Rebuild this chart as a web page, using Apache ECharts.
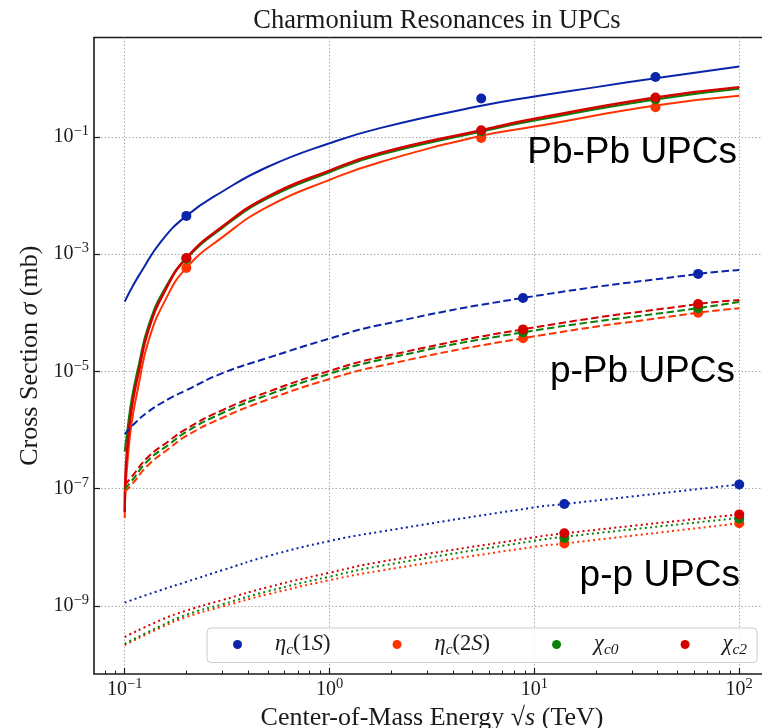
<!DOCTYPE html>
<html><head><meta charset="utf-8">
<script src="https://cdn.jsdelivr.net/npm/echarts@6/dist/echarts.min.js"></script>
<style>html,body{margin:0;padding:0;background:#fff}#c{width:762px;height:728px}</style>
</head><body><div id="c"></div>
<script>
// ---------- data (sigma in mb, sqrt(s) in TeV) ----------
const particles = ['ηc(1S)', 'ηc(2S)', 'χc0', 'χc2'];
const particleLabels = ['{g|η}{c|c}{n|(1}{g|S}{n|)}', '{g|η}{c|c}{n|(2}{g|S}{n|)}', '{g|χ}{c|c0}', '{g|χ}{c|c2}'];
const colors = ['#0a24aa', '#ff3300', '#0a800a', '#d40000'];

// Pb-Pb UPCs (solid curves)
const pbpbE_eta1S = [0.1, 0.11, 0.12, 0.15, 0.2, 0.3, 0.5, 1, 1.76, 5.5, 10, 20, 39, 100];
const pbpb_eta1S = [1.55e-4, 2.95e-4, 4.9e-4, 1.62e-3, 4.49e-3, 1.17e-2, 3.09e-2, 7.8e-2, 0.141, 0.338, 0.488, 0.705, 1.0, 1.585];
const pbpbE_steep = [0.1, 0.1005, 0.1037, 0.1084, 0.1167, 0.1306, 0.158, 0.2, 0.3, 0.5, 1, 1.76, 5.5, 10, 39, 100];
const pbpb_eta2S = [3.16e-8, 7.08e-8, 3.55e-7, 1.41e-6, 5.62e-6, 3.31e-5, 1.66e-4, 5.82e-4, 1.95e-3, 6.46e-3, 1.85e-2, 3.70e-2, 0.104, 0.150, 0.342, 0.501];
const pbpb_chic2 = [3.98e-8, 1.23e-7, 6.76e-7, 2.51e-6, 9.33e-6, 5.13e-5, 2.45e-4, 8.61e-4, 2.95e-3, 9.57e-3, 2.66e-2, 5.27e-2, 0.130, 0.203, 0.469, 0.705];
const pbpbE_chic0 = [0.1, 0.1037, 0.1084, 0.1167, 0.1306, 0.158, 0.2, 0.3, 0.5, 1, 1.76, 5.5, 10, 39, 100];
const pbpb_chic0 = [4.27e-7, 1.20e-6, 3.55e-6, 1.23e-5, 6.03e-5, 2.69e-4, 8.32e-4, 2.80e-3, 8.99e-3, 2.49e-2, 4.93e-2, 0.123, 0.190, 0.434, 0.659];

// p-Pb UPCs (dashed curves)
const ppbE = [0.1, 0.108, 0.13, 0.164, 0.2, 0.3, 0.5, 1, 1.76, 8.8, 63, 100];
const ppb_eta1S = [8.51e-7, 1.15e-6, 2.04e-6, 3.39e-6, 4.79e-6, 9.33e-6, 1.70e-5, 3.63e-5, 6.19e-5, 1.79e-4, 4.59e-4, 5.37e-4];
const ppb_eta2S = [8.91e-8, 1.17e-7, 2.51e-7, 4.79e-7, 7.94e-7, 1.62e-6, 3.31e-6, 7.41e-6, 1.24e-5, 3.67e-5, 1.00e-4, 1.19e-4];
const ppb_chic0 = [9.77e-8, 1.35e-7, 3.02e-7, 5.62e-7, 9.33e-7, 1.95e-6, 3.98e-6, 9.12e-6, 1.57e-5, 4.63e-5, 1.20e-4, 1.53e-4];
const ppb_chic2 = [1.15e-7, 1.58e-7, 3.47e-7, 6.46e-7, 1.05e-6, 2.19e-6, 4.47e-6, 1.02e-5, 1.74e-5, 5.22e-5, 1.41e-4, 1.65e-4];

// p-p UPCs (dotted curves)
const ppE = [0.1, 0.15, 0.2, 0.3, 0.5, 1, 1.76, 10, 14, 100];
const pp_eta1S = [1.14e-9, 1.86e-9, 2.57e-9, 4.07e-9, 7.08e-9, 1.28e-8, 1.84e-8, 4.79e-8, 5.46e-8, 1.18e-7];
const pp_eta2S = [2.14e-10, 4.27e-10, 6.46e-10, 9.77e-10, 1.58e-9, 2.75e-9, 3.98e-9, 1.02e-8, 1.16e-8, 2.57e-8];
const pp_chic0 = [2.26e-10, 4.57e-10, 7.08e-10, 1.07e-9, 1.78e-9, 3.16e-9, 4.79e-9, 1.29e-8, 1.51e-8, 3.16e-8];
const pp_chic2 = [2.95e-10, 5.75e-10, 8.32e-10, 1.26e-9, 2.09e-9, 3.69e-9, 5.62e-9, 1.48e-8, 1.73e-8, 3.64e-8];

// marked points [sqrt(s), sigma]
const pts_eta1S = [[0.2, 4.49e-3], [5.5, 0.45], [39, 1.05], [8.8, 1.79e-4], [63, 4.6e-4], [14, 5.46e-8], [100, 1.18e-7]];
const pts_eta2S = [[0.2, 5.8e-4], [5.5, 0.096], [39, 0.32], [8.8, 3.67e-5], [63, 1.0e-4], [14, 1.16e-8], [100, 2.57e-8]];
const pts_chic0 = [[0.2, 8.3e-4], [5.5, 0.123], [39, 0.434], [8.8, 4.63e-5], [63, 1.2e-4], [14, 1.44e-8], [100, 3.1e-8]];
const pts_chic2 = [[0.2, 8.6e-4], [5.5, 0.13], [39, 0.47], [8.8, 5.2e-5], [63, 1.41e-4], [14, 1.73e-8], [100, 3.64e-8]];

// axes
const X_MIN = 0.0708, X_MAX = 141.3, Y_MIN = 6.9e-11, Y_MAX = 4.95;
const xTickValues = [0.1, 1, 10, 100];
const xTickExponents = ['−1', '0', '1', '2'];
const xMinorTicks = [0.08, 0.09, 0.2, 0.3, 0.4, 0.5, 0.6, 0.7, 0.8, 0.9, 2, 3, 4, 5, 6, 7, 8, 9, 20, 30, 40, 50, 60, 70, 80, 90];
const yTickValues = [1e-9, 1e-7, 1e-5, 1e-3, 1e-1];
const yTickExponents = ['−9', '−7', '−5', '−3', '−1'];
const annotations = ['Pb-Pb UPCs', 'p-Pb UPCs', 'p-p UPCs'];

// ---------- chart ----------
const SERIF = 'Liberation Serif';
const INK = '#1a1a1a';
function pairs(E, S) { return E.map((e, i) => [e, S[i]]); }
function tickFmt(vals, exps) {
  return function (v) {
    let i = vals.findIndex(t => Math.abs(Math.log10(t) - Math.log10(v)) < 1e-6);
    return i < 0 ? '' : '{b|10}{s|' + exps[i] + '}';
  };
}
const tickRich = {
  b: { fontFamily: SERIF, fontSize: 20, color: INK, lineHeight: 26 },
  s: { fontFamily: SERIF, fontSize: 14.5, color: INK, lineHeight: 14, verticalAlign: 'top' }
};

const curveDefs = [
  [pbpbE_eta1S, pbpb_eta1S, 0, 'solid'], [pbpbE_steep, pbpb_eta2S, 1, 'solid'],
  [pbpbE_chic0, pbpb_chic0, 2, 'solid'], [pbpbE_steep, pbpb_chic2, 3, 'solid'],
  [ppbE, ppb_eta1S, 0, [7.5, 3.5]], [ppbE, ppb_eta2S, 1, [7.5, 3.5]],
  [ppbE, ppb_chic0, 2, [7.5, 3.5]], [ppbE, ppb_chic2, 3, [7.5, 3.5]],
  [ppE, pp_eta1S, 0, [2, 3.3]], [ppE, pp_eta2S, 1, [2, 3.3]],
  [ppE, pp_chic0, 2, [2, 3.3]], [ppE, pp_chic2, 3, [2, 3.3]]
];
const series = curveDefs.map((c, k) => ({
  type: 'line', name: 'curve' + k, data: pairs(c[0], c[1]),
  symbol: 'none', smooth: 0.5, silent: true, z: 2,
  lineStyle: { color: colors[c[2]], width: c[2] === 3 && c[3] === 'solid' ? 2.5 : 2, type: c[3] }
}));
[pts_eta1S, pts_eta2S, pts_chic0, pts_chic2].forEach((p, i) => {
  series.push({
    type: 'scatter', name: particles[i], data: p, symbol: 'circle', symbolSize: 10, z: 5,
    itemStyle: { color: colors[i], opacity: 1 }
  });
});

const chart = echarts.init(document.getElementById('c'), null, { renderer: 'canvas' });
chart.setOption({
  animation: false,
  backgroundColor: '#ffffff',
  title: {
    text: 'Charmonium Resonances in UPCs', left: 432, top: 3, textAlign: 'center',
    textStyle: { fontFamily: SERIF, fontSize: 26.5, fontWeight: 'normal', color: INK }
  },
  grid: { left: 94, right: -8, top: 37.5, bottom: 54, outerBoundsMode: 'none', containLabel: false,
          show: true, borderColor: INK, borderWidth: 1.6, backgroundColor: 'transparent' },
  legend: {
    data: particles, left: 207, top: 628, orient: 'horizontal',
    icon: 'circle', itemWidth: 9, itemHeight: 9, itemGap: 62,
    padding: [5, 10, 5, 26], borderColor: '#cccccc', borderWidth: 1, borderRadius: 4,
    backgroundColor: 'rgba(255,255,255,0.85)',
    formatter: name => '{sp| }' + particleLabels[particles.indexOf(name)],
    textStyle: {
      color: INK,
      rich: {
        sp: { width: 28, fontSize: 10 },
        g: { fontFamily: SERIF, fontSize: 22.5, fontStyle: 'italic', color: INK, lineHeight: 26 },
        n: { fontFamily: SERIF, fontSize: 22.5, color: INK, lineHeight: 26 },
        c: { fontFamily: SERIF, fontSize: 15.5, fontStyle: 'italic', color: INK, lineHeight: 15, verticalAlign: 'bottom' }
      }
    }
  },
  xAxis: [{
    type: 'log', logBase: 10, min: X_MIN, max: X_MAX,
    axisLine: { show: false },
    axisTick: { show: true, inside: true, length: 6, customValues: xTickValues, lineStyle: { color: INK, width: 1.2 } },
    axisLabel: { customValues: xTickValues, formatter: tickFmt(xTickValues, xTickExponents), rich: tickRich, margin: 3 },
    splitLine: { show: true, lineStyle: { color: '#a9a9a9', width: 1, type: [1.5, 2] } },
    name: '{n|Center-of-Mass Energy }{r|√}{i|s}{n| (TeV)}', nameLocation: 'middle', nameGap: 11,
    nameTextStyle: {
      rich: {
        n: { fontFamily: SERIF, fontSize: 26, color: INK },
        r: { fontFamily: SERIF, fontSize: 26, color: INK },
        i: { fontFamily: SERIF, fontSize: 26, fontStyle: 'italic', color: INK }
      }
    }
  }, {
    type: 'log', logBase: 10, min: X_MIN, max: X_MAX, position: 'bottom',
    axisLine: { show: false }, axisLabel: { show: false }, splitLine: { show: false },
    axisTick: { show: true, inside: true, length: 3.5, customValues: xMinorTicks, lineStyle: { color: INK, width: 1 } }
  }],
  yAxis: {
    type: 'log', logBase: 10, min: Y_MIN, max: Y_MAX,
    axisLine: { show: false },
    axisTick: { show: true, inside: true, length: 6, customValues: yTickValues, lineStyle: { color: INK, width: 1.2 } },
    axisLabel: { customValues: yTickValues, formatter: tickFmt(yTickValues, yTickExponents), rich: tickRich, margin: 5 },
    splitLine: { show: true, lineStyle: { color: '#a9a9a9', width: 1, type: [1.5, 2] } },
    name: 'Cross Section {i|σ} (mb)', nameLocation: 'middle', nameGap: 48, nameRotate: 90,
    nameTextStyle: {
      fontFamily: SERIF, fontSize: 26, color: INK,
      rich: { i: { fontFamily: SERIF, fontSize: 26, fontStyle: 'italic', color: INK } }
    }
  },
  graphic: [
    { type: 'text', x: 737, y: 153, style: { text: annotations[0], fill: '#000', font: '37px "Liberation Sans"', align: 'right', verticalAlign: 'middle' }, z: 10 },
    { type: 'text', x: 735, y: 372, style: { text: annotations[1], fill: '#000', font: '37px "Liberation Sans"', align: 'right', verticalAlign: 'middle' }, z: 10 },
    { type: 'text', x: 740, y: 576, style: { text: annotations[2], fill: '#000', font: '37px "Liberation Sans"', align: 'right', verticalAlign: 'middle' }, z: 10 }
  ],
  series: series
});
</script></body></html>
